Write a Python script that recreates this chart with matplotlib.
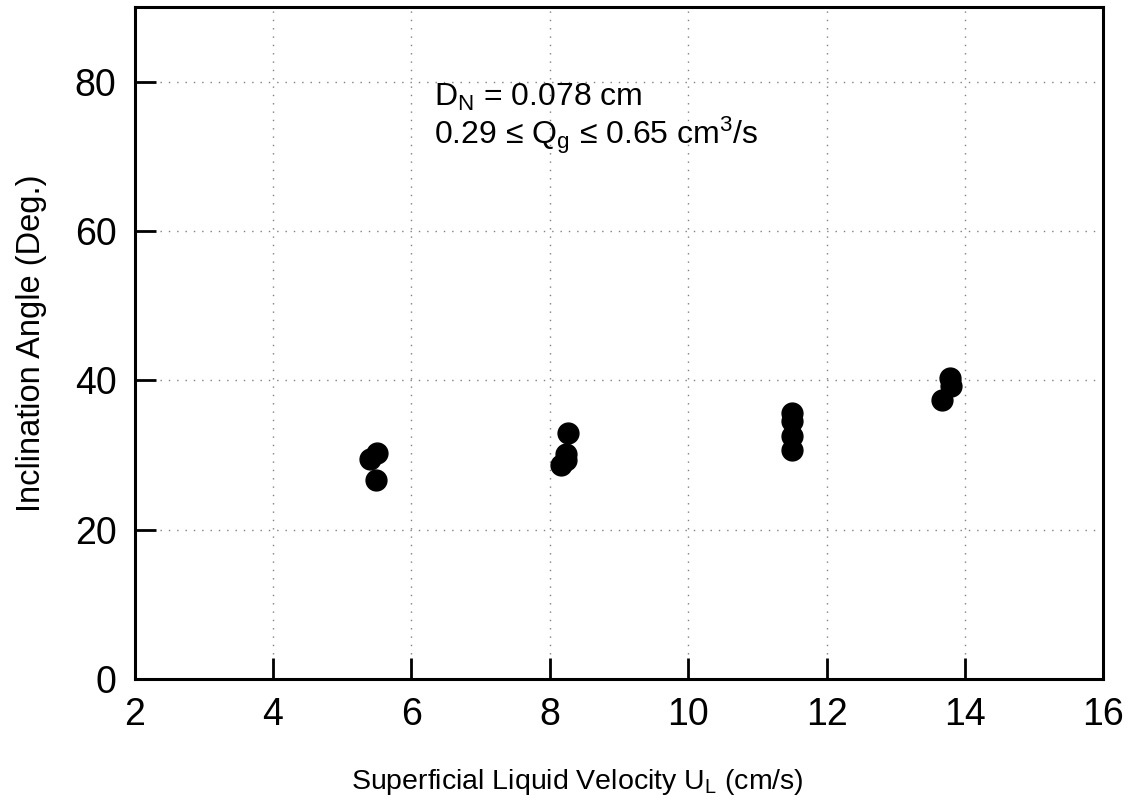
import matplotlib
matplotlib.use("Agg")
import matplotlib.pyplot as plt

plt.rcParams['font.family'] = ['Liberation Sans', 'DejaVu Sans']
plt.rcParams['mathtext.fontset'] = 'custom'
plt.rcParams['mathtext.rm'] = 'Liberation Sans'
plt.rcParams['mathtext.it'] = 'Liberation Sans:italic'

# data
u_liquid = [5.40, 5.50, 5.49, 8.16, 8.23, 8.24, 8.26,
            11.50, 11.50, 11.50, 11.50, 13.67, 13.78, 13.80]
angle = [29.5, 30.3, 26.7, 28.7, 30.1, 29.3, 32.9,
         35.6, 34.5, 32.5, 30.6, 37.3, 40.3, 39.2]

xticks = [2, 4, 6, 8, 10, 12, 14, 16]
yticks = [0, 20, 40, 60, 80]

fig = plt.figure(figsize=(11.41, 8.09), dpi=100)
ax = fig.add_axes([0.118, 0.161, 0.849, 0.830])

ax.plot(u_liquid, angle, 'o', color='black', markersize=15, zorder=3)

ax.set_xlim(2, 16)
ax.set_ylim(0, 90)
ax.set_xticks(xticks)
ax.set_yticks(yticks)
ax.grid(True, linestyle=(0, (1, 5)), color='gray', linewidth=1)

for s in ax.spines.values():
    s.set_linewidth(2.2)
ax.tick_params(direction='in', length=15, width=2, labelsize=27,
               top=False, right=False)
ax.tick_params(axis='x', pad=13)
ax.tick_params(axis='y', pad=13)

ax.set_xlabel(r'Superficial Liquid Velocity U$_\mathregular{L}$ (cm/s)',
              fontsize=20.5)
ax.xaxis.set_label_coords(0.457, -0.132)
ax.set_ylabel('Inclination Angle (Deg.)', fontsize=23.5, labelpad=20)

ax.text(6.33, 76.8, r'D$_\mathregular{N}$ = 0.078 cm', fontsize=23)
ax.text(6.33, 71.7,
        '0.29 \u2264 Q$_\\mathregular{g}$ \u2264 0.65 cm$^\\mathregular{3}$/s',
        fontsize=23)

fig.savefig('out.png', dpi=100)
